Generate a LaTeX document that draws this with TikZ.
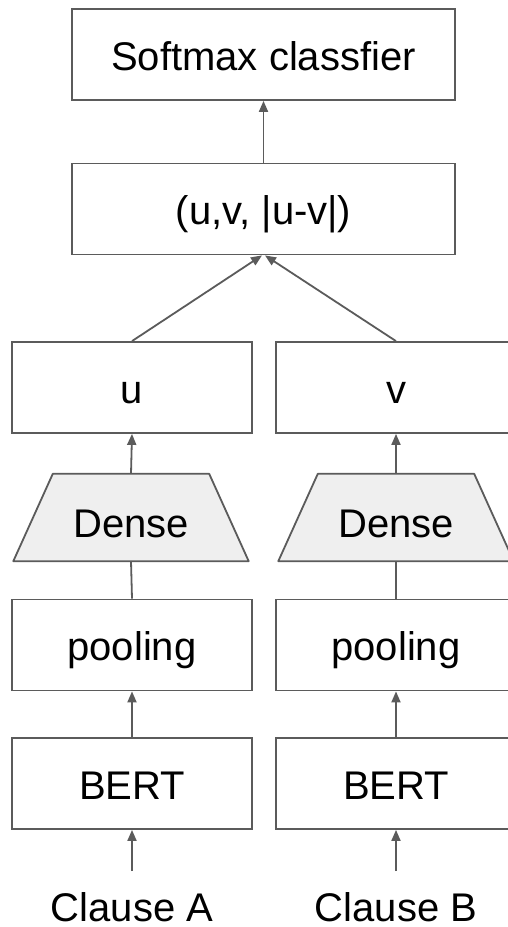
\documentclass[tikz,border=0pt]{standalone}
\usepackage{fontspec}
\setmainfont{Liberation Sans}
\usetikzlibrary{arrows.meta}
\definecolor{edge}{HTML}{5B5B5B}
\definecolor{densefill}{HTML}{EFEFEF}
\begin{document}
\begin{tikzpicture}[x=1pt,y=-1pt,
  box/.style={draw=edge,line width=1.8pt,fill=white,minimum height=91pt,inner sep=0pt,
    text height=31pt,text depth=0pt,font=\fontsize{40}{48}\selectfont},
  wide/.style={box,minimum width=383pt},
  col/.style={box,minimum width=240pt},
  densetext/.style={inner sep=0pt,minimum width=235pt,minimum height=87pt,
    text height=40pt,text depth=0pt,font=\fontsize{40}{48}\selectfont},
  label/.style={inner sep=0pt,anchor=base,font=\fontsize{40}{48}\selectfont},
  arr/.style={draw=edge,line width=1.8pt,-{Triangle[length=11pt,width=9pt]}},
  plain/.style={draw=edge,line width=1.8pt}]
\clip (0,0) rectangle (508,927);
\fill[white] (0,0) rectangle (508,927);

\node[wide] (soft) at (263.5,54.5) {Softmax classfier};
\node[wide] (comb) at (263.5,209) {(u,v, |u-v|)};

\node[col] (u) at (132,387.5) {u};
\node[col] (v) at (396,387.5) {v};

\node[densetext] (da) at (131,517.5) {};
\node[densetext] (db) at (396,517.5) {};
\foreach \d in {da,db}{
  \filldraw[draw=edge,fill=densefill,line width=1.8pt,line join=round]
    (\d.south west) -- (\d.south east) -- ([xshift=-39.5pt]\d.north east)
    -- ([xshift=39.5pt]\d.north west) -- cycle;
}
\node[densetext] at (da.center) {Dense};
\node[densetext] at (db.center) {Dense};

\node[col] (pa) at (132,645) {pooling};
\node[col] (pb) at (396,645) {pooling};

\node[col] (ba) at (132,783.5) {BERT};
\node[col] (bb) at (396,783.5) {BERT};

\coordinate (ia) at (132,871);
\coordinate (ib) at (396,871);
\node[label] (ca) at (132,921) {Clause A};
\node[label] (cb) at (396,921) {Clause B};

\draw[arr] (comb.north) -- (soft.south);
\draw[arr] (u.north) -- ([xshift=-1.5pt]comb.south);
\draw[arr] (v.north) -- ([xshift=1.5pt]comb.south);
\draw[arr] (da.north) -- (u.south);
\draw[arr] (db.north) -- (v.south);
\draw[plain] (pa.north) -- (da.south);
\draw[plain] (pb.north) -- (db.south);
\draw[arr] (ba.north) -- (pa.south);
\draw[arr] (bb.north) -- (pb.south);
\draw[arr] (ia) -- (ba.south);
\draw[arr] (ib) -- (bb.south);
\end{tikzpicture}
\end{document}
